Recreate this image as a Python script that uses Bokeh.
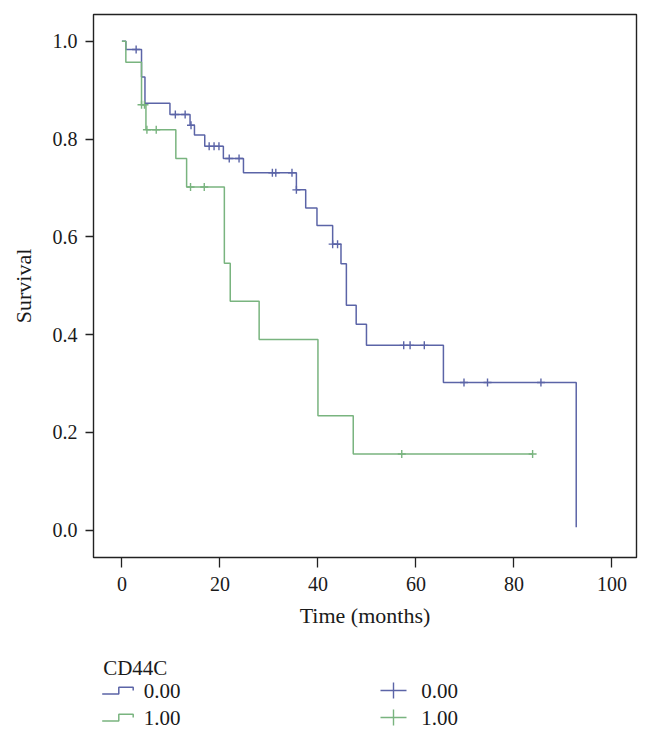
from bokeh.plotting import figure
from bokeh.layouts import column
from bokeh.models import Range1d, FixedTicker, NumeralTickFormatter
from bokeh.core.properties import value
from bokeh.embed import file_html
from bokeh.resources import INLINE

# ---- data ----
group_labels = ["0.00", "1.00"]
legend_title = "CD44C"
colors = ["#5b64a7", "#79b47f"]

blue_t = [0, 0.8, 4.0, 4.7, 9.8, 13.9, 14.8, 16.9, 20.7, 24.8, 35.6, 37.5, 39.8,
          43.0, 44.7, 45.8, 47.8, 49.9, 65.6, 92.7]
blue_s = [1.0, 0.983, 0.927, 0.873, 0.850, 0.828, 0.808, 0.785, 0.760, 0.731, 0.696,
          0.659, 0.623, 0.585, 0.545, 0.460, 0.421, 0.378, 0.302, 0.006]
blue_cens_t = [2.9, 10.9, 12.9, 14.1, 17.8, 18.8, 19.8, 21.9, 23.9, 30.7, 31.4, 34.7,
               35.6, 43.0, 44.0, 57.5, 58.8, 61.7, 69.8, 74.6, 85.5]
blue_cens_s = [0.983, 0.850, 0.850, 0.828, 0.785, 0.785, 0.785, 0.760, 0.760, 0.731,
               0.731, 0.731, 0.696, 0.585, 0.585, 0.378, 0.378, 0.378, 0.302, 0.302, 0.302]

green_t = [0, 0.8, 4.0, 4.9, 11.0, 13.2, 20.9, 22.1, 28.0, 40.0, 47.2, 83.8]
green_s = [1.0, 0.957, 0.870, 0.819, 0.760, 0.702, 0.546, 0.468, 0.390, 0.234, 0.156, 0.156]
green_cens_t = [4.0, 4.6, 5.1, 7.0, 14.0, 16.8, 57.1, 83.8]
green_cens_s = [0.870, 0.870, 0.819, 0.819, 0.702, 0.702, 0.156, 0.156]

x_ticks = [0, 20, 40, 60, 80, 100]
y_ticks = [0.0, 0.2, 0.4, 0.6, 0.8, 1.0]

FONT = "Liberation Serif"
TXT = "#1a1a1a"

BL, BR, BT = 93, 14, 14  # borders (pixels) around the plot frame

p = figure(width=650, height=640, output_backend="svg", toolbar_location=None,
           x_range=Range1d(-5.8, 105.0), y_range=Range1d(-0.0558, 1.0546),
           min_border_left=BL, min_border_top=BT, min_border_right=BR,
           min_border_bottom=83)
p.xgrid.visible = False
p.ygrid.visible = False
p.outline_line_color = "#222222"
p.outline_line_width = 1.4
p.background_fill_color = "white"
p.border_fill_color = "white"

for ax in (p.xaxis[0], p.yaxis[0]):
    ax.axis_line_color = None
    ax.major_tick_in = 0
    ax.minor_tick_line_color = None
    ax.major_tick_line_color = "#222222"
    ax.major_tick_line_width = 1.3
    ax.major_label_text_font = FONT
    ax.major_label_text_font_size = "20px"
    ax.major_label_text_color = TXT
    ax.axis_label_text_font = FONT
    ax.axis_label_text_font_size = "22px"
    ax.axis_label_text_font_style = "normal"
    ax.axis_label_text_color = TXT

p.xaxis.ticker = FixedTicker(ticks=x_ticks)
p.yaxis.ticker = FixedTicker(ticks=y_ticks)
p.yaxis.formatter = NumeralTickFormatter(format="0.0")
p.xaxis.major_tick_out = 10
p.yaxis.major_tick_out = 8
p.xaxis.major_label_standoff = 9
p.yaxis.major_label_standoff = 8
p.xaxis.axis_label = "Time (months)"
p.yaxis.axis_label = "Survival"
p.xaxis.axis_label_standoff = 9
p.yaxis.axis_label_standoff = 14

# curves
p.step(blue_t, blue_s, mode="after", line_color=colors[0], line_width=1.5)
p.step(green_t, green_s, mode="after", line_color=colors[1], line_width=1.5)
p.scatter(blue_cens_t, blue_cens_s, marker="cross", size=8, line_color=colors[0],
          line_width=1.4)
p.scatter(green_cens_t, green_cens_s, marker="cross", size=8, line_color=colors[1],
          line_width=1.4)

# ---- legend drawn in its own page-pixel-space figure ----
lg = figure(width=650, height=99, output_backend="svg", toolbar_location=None,
            x_range=Range1d(BL, 650 - BR), y_range=Range1d(739, 640),
            x_axis_location=None, y_axis_location=None,
            min_border_left=BL, min_border_right=BR, min_border_top=0,
            min_border_bottom=0)
lg.xgrid.visible = False
lg.ygrid.visible = False
lg.outline_line_color = None
lg.border_fill_color = "white"

lg.text(x=[102.7], y=[667], text=[legend_title], text_font=value(FONT),
        text_font_size="21px", text_baseline="middle", text_color=TXT)

row_y = [690, 717]
for i, lab in enumerate(group_labels):
    yc = row_y[i]
    # step icon
    lg.line([101.7, 118.3, 118.3, 132.7, 132.7],
            [yc + 3.5, yc + 3.5, yc - 3.2, yc - 3.2, yc],
            line_color=colors[i], line_width=1.5)
    lg.text(x=[143.3], y=[yc], text=[lab], text_font=value(FONT),
            text_font_size="21px", text_baseline="middle", text_color=TXT)
    # censor-mark icon
    lg.segment(x0=[380], y0=[yc], x1=[406], y1=[yc], line_color=colors[i], line_width=1.4)
    lg.segment(x0=[393], y0=[yc - 8], x1=[393], y1=[yc + 8], line_color=colors[i],
               line_width=1.4)
    lg.text(x=[420.7], y=[yc], text=[lab], text_font=value(FONT),
            text_font_size="21px", text_baseline="middle", text_color=TXT)

layout = column(p, lg, spacing=0)
open("out.html", "w").write(file_html(layout, INLINE))
